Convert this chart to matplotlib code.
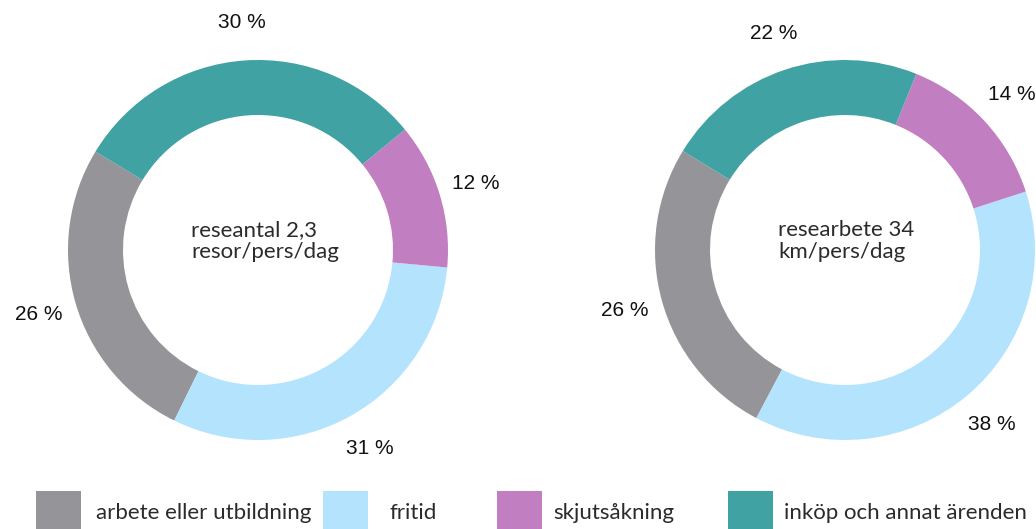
import numpy as np
import matplotlib
matplotlib.use("Agg")
import matplotlib.pyplot as plt
from matplotlib.patches import Rectangle

# data
categories = ["arbete eller utbildning", "fritid", "skjutsåkning", "inköp och annat ärenden"]
colors = ["#959498", "#b3e3fd", "#c17fc2", "#40a2a3"]
resor_share = [26.4, 30.8, 12.4, 30.4]
km_share = [26.0, 37.7, 13.9, 22.4]
center_texts = ["reseantal 2,3\nresor/pers/dag", "researbete 34\nkm/pers/dag"]

W, H = 1036, 529
R = 190.0  # outer radius in px
fig = plt.figure(figsize=(W / 100, H / 100), dpi=100)

def donut(cx, cy, values, start, text, text_x):
    span = 1.3
    side = 2 * span * R
    ax = fig.add_axes([(cx - side / 2) / W, (H - cy - side / 2) / H, side / W, side / H])
    wedges, _ = ax.pie(values, colors=colors, startangle=start, counterclock=True,
                       radius=1.0, wedgeprops=dict(width=55 / R, linewidth=0))
    ax.set_xlim(-span, span)
    ax.set_ylim(-span, span)
    ax.set_aspect("equal")
    ax.axis("off")
    for w, v in zip(wedges, values):
        mid = np.deg2rad((w.theta1 + w.theta2) / 2)
        ax.text(1.2 * np.cos(mid), 1.2 * np.sin(mid), f"{round(v)} %",
                ha="center", va="center", fontsize=15, family="Liberation Sans",
                color="#111111", clip_on=False)
    ax.text((text_x - cx) / R, 9 / R, text, ha="left", va="center", fontsize=16,
            family="Lato", color="#2b2b2b", linespacing=1.15)
    return ax

donut(258, 250, resor_share, 148.8, center_texts[0], 191)
donut(845, 250, km_share, 148.6, center_texts[1], 778)

# legend at bottom
box_x = [36, 323, 497, 728]
text_x = [96, 390, 553, 784]
for x, tx, c, lab in zip(box_x, text_x, colors, categories):
    fig.patches.append(Rectangle((x / W, 0), 45 / W, 38 / H, transform=fig.transFigure,
                                 facecolor=c, edgecolor="none"))
    fig.text(tx / W, (H - 513) / H, lab, ha="left", va="center", fontsize=16,
             family="Lato", color="#2b2b2b")

fig.savefig("out.png", dpi=100, facecolor="white")
